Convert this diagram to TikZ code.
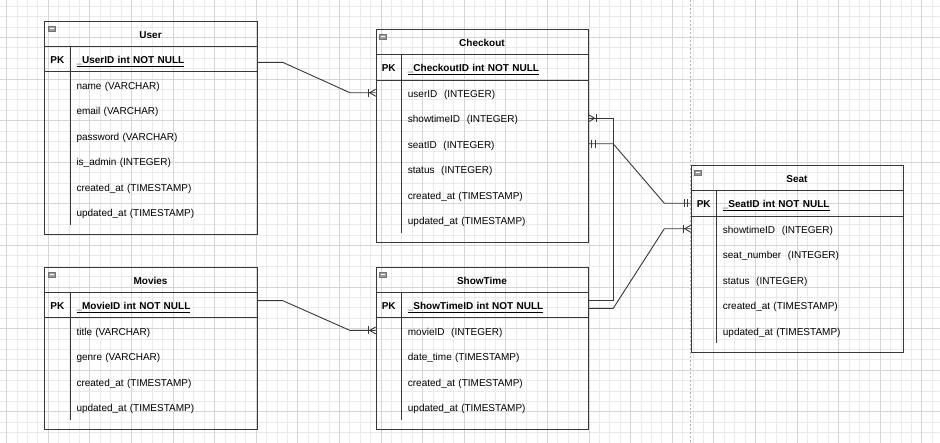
\documentclass[tikz,border=0pt]{standalone}
\usepackage{fontspec}
\setmainfont{Liberation Sans}
\definecolor{inkline}{HTML}{383838}
\definecolor{gridminor}{HTML}{EAEAEA}
\definecolor{gridmajor}{HTML}{D6D6D6}
\definecolor{pageline}{HTML}{B5B5B5}
\definecolor{iconfill}{HTML}{9A9A9A}

% One ER entity: #1 id, #2 left, #3 top, #4 title, #5 key field,
% #6 number of fields, #7 the fields
\newcommand{\ertable}[7]{%
  \pgfmathsetmacro{\erh}{60+25.5*#6}
  \node[tableframe, minimum height=\erh pt, anchor=north west] (#1) at (#2,#3) {};
  \draw[sepline] (#2,#3+25.5) -- (#2+212.5,#3+25.5);
  \draw[sepline] (#2,#3+51) -- (#2+212.5,#3+51);
  \draw[sepline] (#2+26,#3+25.5) -- (#2+26,{#3+51+25.5*#6});
  \draw[collapse] (#2+4,#3+5.3) rectangle ++(7,5);
  \draw[white, line width=0.8pt] (#2+5.5,#3+7.8) -- ++(4,0);
  \node[titletext] (#1-title) at (#2+106.25,#3+12.75) {#4};
  \node[pktext] (#1-pk) at (#2+13,#3+38.25) {PK};
  \node[fieldcell, font=\bfseries] (#1-key) at (#2+26,#3+38.25) {\underline{#5}};
  \foreach \f [count=\i] in {#7} {
    \node[fieldcell] (#1-r\i) at (#2+26,{#3+38.25+25.5*\i}) {\f};
  }
}

\begin{document}
\begin{tikzpicture}[x=1pt, y=-1pt,
  tableframe/.style={draw=inkline, line width=0.9pt, minimum width=212.5pt, inner sep=0pt},
  sepline/.style={draw=inkline, line width=0.9pt},
  collapse/.style={draw=inkline!70, fill=iconfill, line width=0.5pt},
  titletext/.style={font=\bfseries, inner sep=0pt, text height=9.6pt, text depth=0.4pt},
  pktext/.style={font=\bfseries, inner sep=0pt, text height=9.6pt, text depth=0.4pt},
  fieldcell/.style={anchor=west, inner xsep=6pt, inner ysep=0pt, minimum width=186.5pt,
    minimum height=25.5pt, text width=174.5pt, align=left, text height=9.6pt, text depth=0.4pt},
  conn/.style={draw=inkline, line width=0.9pt},
  minorgrid/.style={draw=gridminor, line width=0.5pt},
  majorgrid/.style={draw=gridmajor, line width=0.6pt},
  crowone/.pic={\draw[conn] (0,-3.5) -- (6,0) -- (0,3.5); \draw[conn] (7.5,-4) -- (7.5,4);},
  mandone/.pic={\draw[conn] (3,-4) -- (3,4); \draw[conn] (6.5,-4) -- (6.5,4);}
]
% canvas and grid
\fill[white] (0,0) rectangle (940,443);
\useasboundingbox (0,0) rectangle (940,443);
\foreach \k in {0,...,89} {\draw[minorgrid] ({6.4+10.4*\k},0) -- ({6.4+10.4*\k},443);}
\foreach \k in {0,...,42} {\draw[minorgrid] (0,{6.1+10.4*\k}) -- (940,{6.1+10.4*\k});}
\foreach \k in {0,...,22} {\draw[majorgrid] ({6.4+41.6*\k},0) -- ({6.4+41.6*\k},443);}
\foreach \k in {0,...,9} {\draw[majorgrid] (0,{37.3+41.6*\k}) -- (940,{37.3+41.6*\k});}
% page break
\draw[pageline, line width=0.6pt, dash pattern=on 2pt off 2pt] (690.7,0) -- (690.7,443);

% entities
\ertable{user}{44.3}{20.7}{User}{\_UserID int NOT NULL}{6}{%
  name (VARCHAR), email (VARCHAR), password (VARCHAR), is\_admin (INTEGER),
  created\_at (TIMESTAMP), updated\_at (TIMESTAMP)}
\ertable{checkout}{375.7}{29}{Checkout}{\_CheckoutID int NOT NULL}{6}{%
  userID~ (INTEGER), showtimeID~ (INTEGER), seatID~ (INTEGER), status~ (INTEGER),
  created\_at (TIMESTAMP), updated\_at (TIMESTAMP)}
\ertable{seat}{690.7}{165}{Seat}{\_SeatID int NOT NULL}{5}{%
  showtimeID~ (INTEGER), seat\_number~ (INTEGER), status~ (INTEGER),
  created\_at (TIMESTAMP), updated\_at (TIMESTAMP)}
\ertable{movies}{44.3}{266.7}{Movies}{\_MovieID int NOT NULL}{4}{%
  title (VARCHAR), genre (VARCHAR), created\_at (TIMESTAMP), updated\_at (TIMESTAMP)}
\ertable{showtime}{375.7}{266.7}{ShowTime}{\_ShowTimeID int NOT NULL}{4}{%
  movieID~ (INTEGER), date\_time (TIMESTAMP), created\_at (TIMESTAMP), updated\_at (TIMESTAMP)}

% connector end points on entity edges
\coordinate (u2c) at (checkout.west |- checkout-r1.center);
\coordinate (m2s) at (showtime.west |- showtime-r1.center);
\coordinate (c2seat) at (seat.west |- seat-key.center);
\coordinate (s2seat) at (seat.west |- seat-r1.center);

% User 1 -- n Checkout
\draw[conn] ([yshift=-3.4pt]user-key.east) -- ++(25.6,0) -- ([xshift=-25.7pt]u2c) -- (u2c);
\pic[rotate=180] at (u2c) {crowone};
% Movies 1 -- n ShowTime
\draw[conn] ([yshift=4.25pt]movies-key.east) -- ++(25.6,0) -- ([xshift=-25.7pt]m2s) -- (m2s);
\pic[rotate=180] at (m2s) {crowone};
% ShowTime 1 -- n Checkout
\draw[conn] (checkout-r2.east) -- ++(24.6,0) |- ([yshift=4.25pt]showtime-key.east);
\pic at (checkout-r2.east) {crowone};
% Checkout 1 -- 1 Seat
\draw[conn] (checkout-r3.east) -- ++(24.6,0) -- ([xshift=-26.4pt]c2seat) -- (c2seat);
\pic at (checkout-r3.east) {mandone};
\pic[rotate=180] at (c2seat) {mandone};
% ShowTime 1 -- n Seat
\draw[conn] ([yshift=-3.4pt]showtime-key.east) -- ++(24.6,0) -- ([xshift=-26.4pt]s2seat) -- (s2seat);
\pic[rotate=180] at (s2seat) {crowone};
\end{tikzpicture}
\end{document}
